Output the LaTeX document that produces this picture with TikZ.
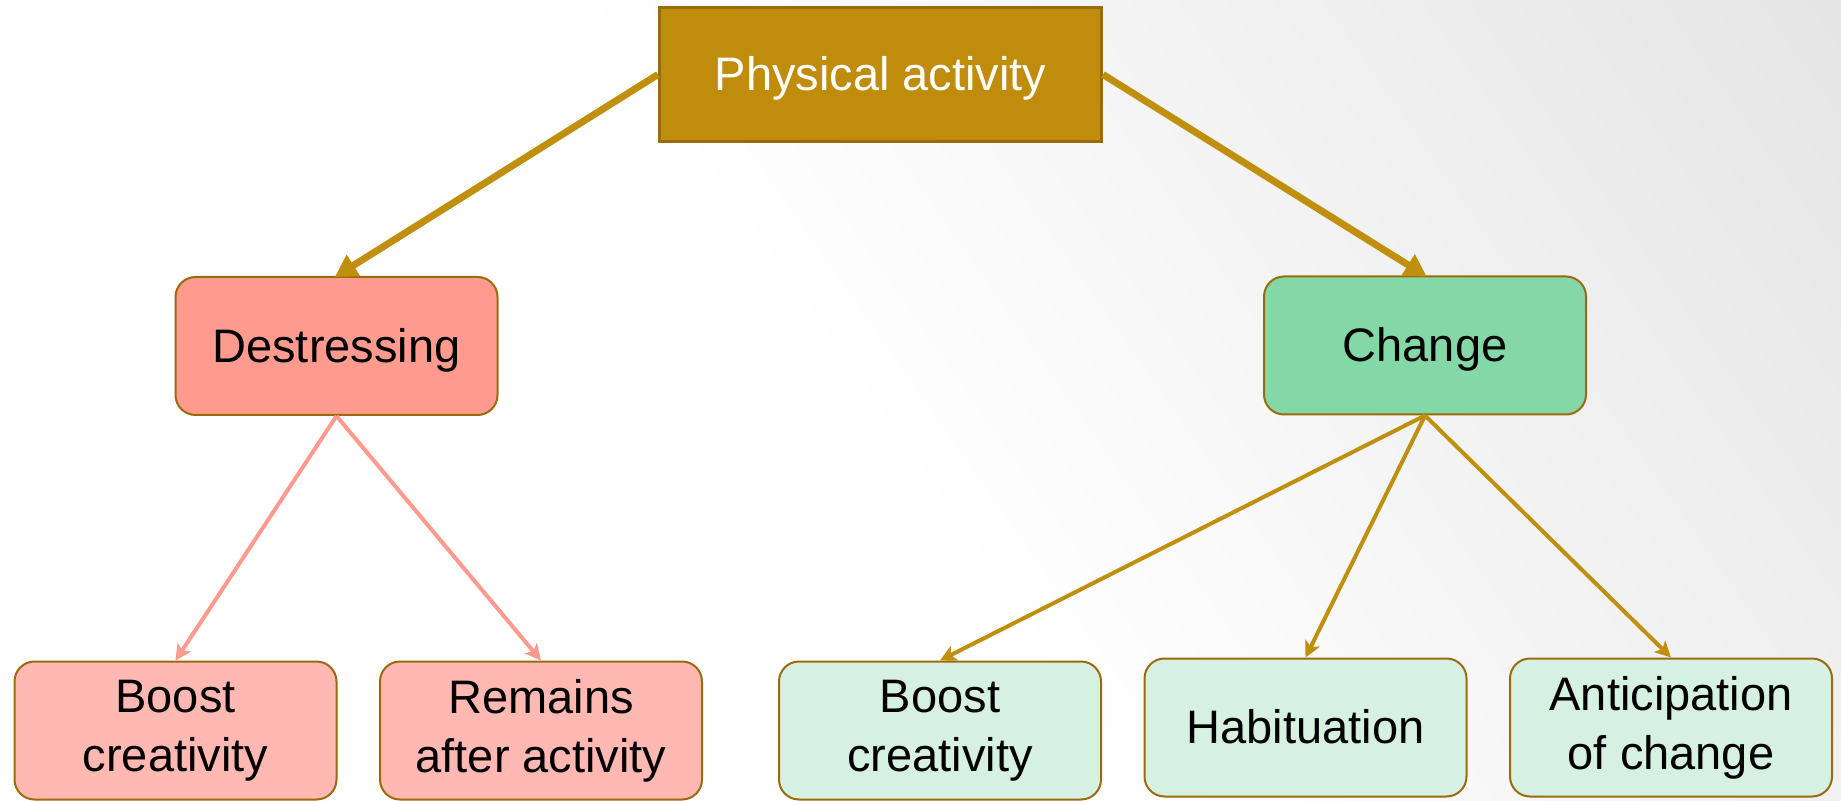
\documentclass[tikz,border=0pt]{standalone}
\usepackage{fontspec}
\setmainfont{Liberation Sans}
\usepackage{xcolor}
\usetikzlibrary{positioning,arrows.meta}

\definecolor{goldFill}{HTML}{BF8C0C}
\definecolor{goldLine}{HTML}{C18F0E}
\definecolor{boxEdge}{HTML}{9A6B0A}
\definecolor{destFill}{HTML}{FF9A8F}
\definecolor{destLeaf}{HTML}{FFB8B2}
\definecolor{chgFill}{HTML}{84D8A8}
\definecolor{chgLeaf}{HTML}{D6F0E1}
\definecolor{bgGray}{HTML}{DADADA}

\pgfdeclarehorizontalshading{bgFade}{100bp}{color(0bp)=(white); color(48bp)=(white); color(100bp)=(bgGray)}

% line strut with the ascent/descent of the font
\newcommand{\lineStrut}{\rule[-0.212em]{0pt}{1.117em}}

\begin{document}
\begin{tikzpicture}[x=0.5pt, y=-0.5pt]
  \tikzset{
    strutText/.style={execute at begin node=\lineStrut, execute at end node=\lineStrut},
    rootBox/.style={strutText, draw=boxEdge, line width=1.5pt, fill=goldFill, text=white, inner sep=0pt, minimum width=221pt, minimum height=67pt},
    midBox/.style={strutText, draw=boxEdge, line width=1pt, rounded corners=10pt, inner sep=0pt, minimum width=161pt, minimum height=69pt},
    leafBox/.style={midBox, align=center},
    bigArrow/.style={draw=goldLine, line width=3.5pt, -{Triangle[length=11pt,width=12pt]}, shorten >=-1pt},
    destArrow/.style={draw=destFill, line width=2pt, -{Stealth[length=8pt,width=8pt,inset=2pt]}},
    chgArrow/.style={draw=goldLine, line width=2pt, -{Stealth[length=8pt,width=8pt,inset=2pt]}}
  }
  \fontsize{23.5}{29.5}\selectfont

  % --- Background ---
  \shade[shading=bgFade, shading angle=35] (0,0) rectangle (1841,801);
  \useasboundingbox (0,0) rectangle (1841,801);

  % --- Top level ---
  \node[rootBox] (root) at (880.5,74.5) {Physical activity};

  \node[midBox, fill=destFill] (dest) at (336.5,346) {Destressing};
  \node[midBox, fill=chgFill] (chg) at (1425,345.5) {Change};

  % --- Leaves ---
  \node[leafBox, fill=destLeaf] (dest-leaf-1) at (175.5,730.5) {Boost\\creativity};
  \node[leafBox, fill=destLeaf] (dest-leaf-2) at (541,730.5) {Remains\\after activity};
  \node[leafBox, fill=chgLeaf] (chg-leaf-1) at (940,730.5) {Boost\\creativity};
  \node[leafBox, fill=chgLeaf] (chg-leaf-2) at (1305.5,727.5) {Habituation};
  \node[leafBox, fill=chgLeaf] (chg-leaf-3) at (1671,727.5) {Anticipation\\of change};

  % ---- connectors ----
  \draw[bigArrow] (root.west) -- (dest.north);
  \draw[bigArrow] (root.east) -- (chg.north);

  \draw[destArrow] (dest.south) -- (dest-leaf-1.north);
  \draw[destArrow] (dest.south) -- (dest-leaf-2.north);

  \draw[chgArrow] (chg.south) -- (chg-leaf-1.north);
  \draw[chgArrow] (chg.south) -- (chg-leaf-2.north);
  \draw[chgArrow] (chg.south) -- (chg-leaf-3.north);

\end{tikzpicture}
\end{document}
